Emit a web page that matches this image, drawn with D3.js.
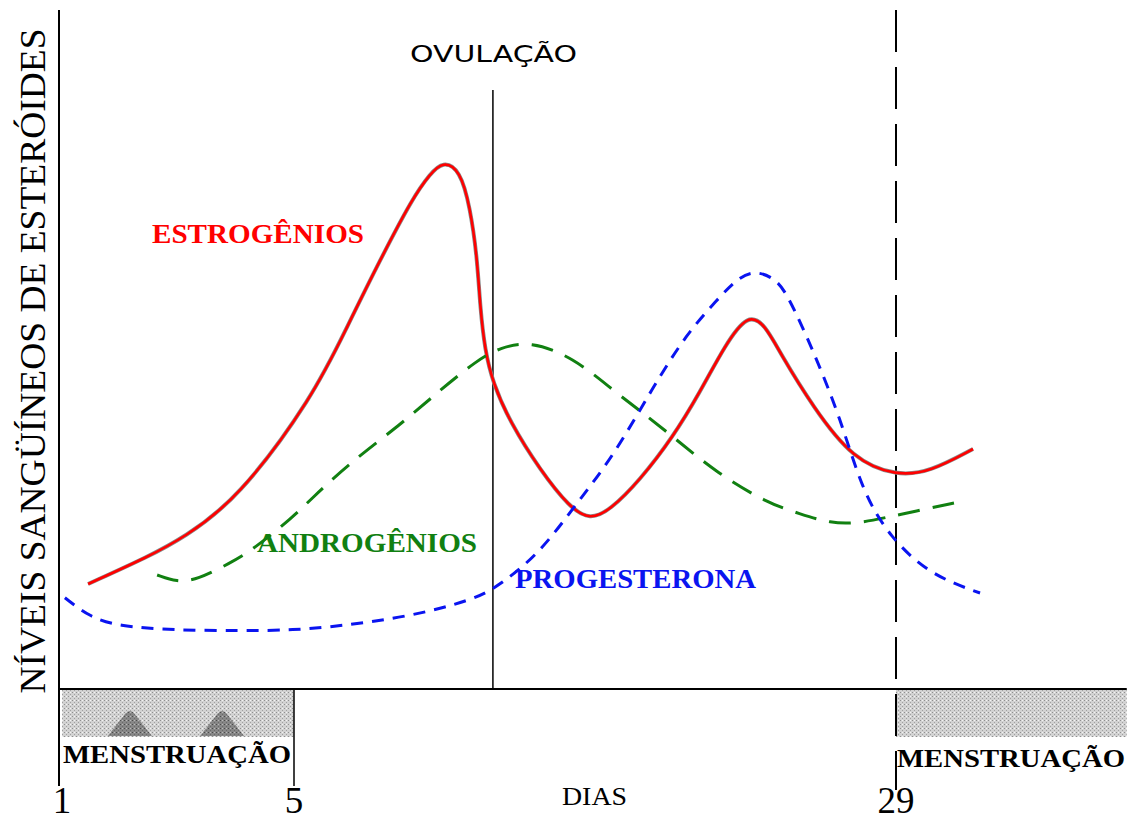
<!DOCTYPE html>
<html>
<head>
<meta charset="utf-8">
<script src="https://cdn.jsdelivr.net/npm/d3@7"></script>
<style>
  body { margin: 0; background: #fff; }
  svg { display: block; }
</style>
</head>
<body>
<svg id="chart"></svg>
<script>
const W = 1132, H = 823

// day ticks shown under the axis
const tickDays = [1, 5, 29]
const ovulationDay = 12.93
const menstruation = [[1, 5], [29, 38.2]]
const moundDays = [2.17, 3.76]

// hormone curves: [day, level]
const estrogens = [
  [1.45, 17.5], [2.52, 22.2], [3.09, 25.2], [4.02, 31.5], [5.76, 48.7],
  [7.11, 60.3], [8.43, 71.5], [9.75, 82], [10.42, 85.8], [10.94, 88], [11.62, 86.5],
  [12.02, 80.3], [12.30, 72], [12.42, 63.7], [12.61, 56.5], [12.93, 51], [13.61, 44.5],
  [14.81, 36.5], [16.0, 30.2], [16.8, 28.2], [17.6, 29.8], [18.79, 34.8], [20.11, 42],
  [21.19, 49.5], [22.18, 57.3], [23.10, 62.6], [23.78, 60.7], [24.38, 56], [25.69, 47],
  [27.29, 38.2], [29.04, 35.5], [30.36, 36.2], [32.07, 40]
]
const androgens = [
  [2.64, 19], [2.98, 17.8], [3.33, 18.2], [3.90, 21], [4.29, 23.2], [5.0, 28.8],
  [5.64, 31.5], [7.23, 37.7], [9.23, 44], [10.82, 49.8], [12.30, 54.8], [13.21, 56.9],
  [14.41, 58], [16.12, 55.3], [17.72, 49.8], [18.91, 46], [20.27, 41.5], [21.86, 36],
  [23.86, 31], [25.17, 29.2], [26.37, 27.6], [27.57, 27.6], [29.04, 29], [31.55, 31.2]
]
const progesterone = [
  [1.05, 15.2], [1.48, 12], [1.95, 10.5], [2.91, 9.8], [4.07, 9.7], [5.0, 9.8],
  [6.83, 10.5], [9.51, 12], [12.14, 14.8], [13.21, 17.3], [14.81, 22.7], [16.28, 31],
  [17.72, 38.7], [19.31, 50.3], [20.67, 59.3], [21.86, 64.8], [22.66, 68.4], [23.38, 69.8],
  [24.18, 68.4], [24.65, 66], [25.69, 56.5], [26.77, 45.3], [27.68, 32.7], [28.76, 25.3],
  [30.36, 19], [32.35, 16]
]

const svg = d3.select("#chart").attr("width", W).attr("height", H)

// the day axis is schematic: days 1-5 are drawn wider than the rest
const x = d3.scaleLinear().domain([1, 5, 29]).range([62, 294, 896])
const y = d3.scaleLinear().domain([0, 100]).range([689, 89])

// stipple for the menstruation bands
const defs = svg.append("defs")
function stipple(id, base, dark, mid, light) {
  const p = defs.append("pattern").attr("id", id)
    .attr("width", 4).attr("height", 4).attr("patternUnits", "userSpaceOnUse")
  p.append("rect").attr("width", 4).attr("height", 4).attr("fill", base)
  p.append("rect").attr("width", 1).attr("height", 1).attr("fill", dark)
  p.append("rect").attr("x", 2).attr("y", 2).attr("width", 1).attr("height", 1).attr("fill", mid)
  p.append("rect").attr("x", 2).attr("y", 0).attr("width", 1).attr("height", 1).attr("fill", light)
}
stipple("stipple", "#d2d2d2", "#8f8f8f", "#a0a0a0", "#f4f4f4")
stipple("stippleDark", "#6e6e6e", "#333", "#555", "#a5a5a5")

svg.append("g").selectAll("rect")
  .data(menstruation)
  .join("rect")
    .attr("x", d => x(d[0]))
    .attr("y", y(0))
    .attr("width", d => x(d[1]) - x(d[0]))
    .attr("height", 48)
    .attr("fill", "url(#stipple)")

svg.append("g").selectAll("path")
  .data(moundDays)
  .join("path")
    .attr("d", d => {
      const cx = x(d)
      return `M${cx - 22},${y(0) + 47} Q${cx - 12},${y(0) + 34} ${cx - 4},${y(0) + 24} Q${cx},${y(0) + 20} ${cx + 4},${y(0) + 24} Q${cx + 12},${y(0) + 34} ${cx + 22},${y(0) + 47} Z`
    })
    .attr("fill", "url(#stippleDark)")
    .attr("opacity", 0.75)

// axes
svg.append("line").attr("x1", 59).attr("x2", 59).attr("y1", 10).attr("y2", 786)
  .attr("stroke", "#000").attr("stroke-width", 2)
svg.append("line").attr("x1", 59).attr("x2", x(38.2)).attr("y1", y(0)).attr("y2", y(0))
  .attr("stroke", "#000").attr("stroke-width", 2)
svg.append("line").attr("x1", x(5)).attr("x2", x(5)).attr("y1", y(0)).attr("y2", 786)
  .attr("stroke", "#000").attr("stroke-width", 1.5)
svg.append("line").attr("x1", x(29)).attr("x2", x(29)).attr("y1", 10).attr("y2", 790)
  .attr("stroke", "#000").attr("stroke-width", 2).attr("stroke-dasharray", "42,15")
svg.append("line").attr("x1", x(ovulationDay)).attr("x2", x(ovulationDay)).attr("y1", 90).attr("y2", y(0))
  .attr("stroke", "#000").attr("stroke-width", 1.5)

svg.append("g").selectAll("text")
  .data(tickDays)
  .join("text")
    .attr("x", d => x(d))
    .attr("y", 813)
    .attr("text-anchor", "middle")
    .style("font", "37px 'Liberation Serif', serif")
    .text(d => d)

const line = d3.line().x(d => x(d[0])).y(d => y(d[1])).curve(d3.curveBasis)

// red curve has a thin grey rim like the scanned original
svg.append("path").attr("d", line(estrogens)).attr("fill", "none")
  .attr("stroke", "#8a8a8a").attr("stroke-width", 4)
svg.append("path").attr("d", line(estrogens)).attr("fill", "none")
  .attr("stroke", "#ff0000").attr("stroke-width", 2.6)
svg.append("path").attr("d", line(androgens)).attr("fill", "none")
  .attr("stroke", "#118011").attr("stroke-width", 3).attr("stroke-dasharray", "22,13")
svg.append("path").attr("d", line(progesterone)).attr("fill", "none")
  .attr("stroke", "#0a14f0").attr("stroke-width", 3).attr("stroke-dasharray", "12,9")

// labels
const serifBold = "bold 27px 'Liberation Serif', serif"
const labels = [
  {text: "ESTROGÊNIOS", x: 152, y: 243, w: 212, color: "#ff0000"},
  {text: "ANDROGÊNIOS", x: 257, y: 552, w: 220, color: "#118011"},
  {text: "PROGESTERONA", x: 515, y: 588, w: 241, color: "#0a14f0"}
]
svg.append("g").selectAll("text")
  .data(labels)
  .join("text")
    .attr("x", d => d.x)
    .attr("y", d => d.y)
    .attr("fill", d => d.color)
    .attr("textLength", d => d.w)
    .attr("lengthAdjust", "spacingAndGlyphs")
    .style("font", serifBold)
    .text(d => d.text)

svg.append("text").attr("x", 410).attr("y", 62).attr("textLength", 167)
  .attr("lengthAdjust", "spacingAndGlyphs")
  .style("font", "23px 'DejaVu Sans', sans-serif").text("OVULAÇÃO")

svg.append("text").attr("x", 562).attr("y", 805).attr("textLength", 65)
  .attr("lengthAdjust", "spacingAndGlyphs")
  .style("font", "26px 'Liberation Serif', serif").text("DIAS")

svg.append("g").selectAll("text")
  .data(menstruation)
  .join("text")
    .attr("x", d => x(d[0]) + 1)
    .attr("y", (d, i) => i === 0 ? 763 : 767)
    .attr("textLength", 228)
    .attr("lengthAdjust", "spacingAndGlyphs")
    .style("font", "bold 25px 'Liberation Serif', serif")
    .text("MENSTRUAÇÃO")

svg.append("text")
  .attr("transform", "translate(45, 361) rotate(-90)")
  .attr("text-anchor", "middle")
  .attr("textLength", 665)
  .attr("lengthAdjust", "spacingAndGlyphs")
  .style("font", "36px 'Liberation Serif', serif")
  .text("NÍVEIS SANGÜÍNEOS DE ESTERÓIDES")
</script>
</body>
</html>
